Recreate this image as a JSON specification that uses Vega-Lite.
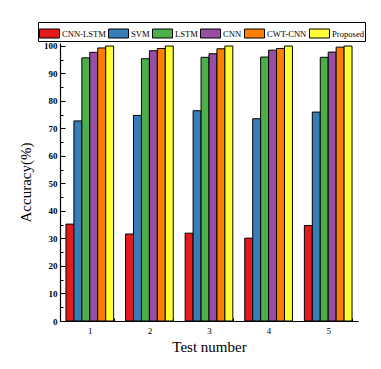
{
  "$schema": "https://vega.github.io/schema/vega-lite/v6.json",
  "autosize": "none",
  "width": 298,
  "height": 278,
  "padding": {"left": 60, "top": 43, "right": 23, "bottom": 48},
  "background": "white",
  "config": {
    "font": "Liberation Serif",
    "view": {"stroke": null},
    "axis": {"domainColor": "black", "tickColor": "black", "labelColor": "black", "titleColor": "black", "grid": false}
  },
  "data": {"values": [
    {"test": "1", "method": "CNN-LSTM", "acc": 35.2},
    {"test": "1", "method": "SVM", "acc": 72.7},
    {"test": "1", "method": "LSTM", "acc": 95.6},
    {"test": "1", "method": "CNN", "acc": 97.6},
    {"test": "1", "method": "CWT-CNN", "acc": 99.2},
    {"test": "1", "method": "Proposed", "acc": 99.9},
    {"test": "2", "method": "CNN-LSTM", "acc": 31.6},
    {"test": "2", "method": "SVM", "acc": 74.7},
    {"test": "2", "method": "LSTM", "acc": 95.3},
    {"test": "2", "method": "CNN", "acc": 98.2},
    {"test": "2", "method": "CWT-CNN", "acc": 99.0},
    {"test": "2", "method": "Proposed", "acc": 99.9},
    {"test": "3", "method": "CNN-LSTM", "acc": 31.9},
    {"test": "3", "method": "SVM", "acc": 76.4},
    {"test": "3", "method": "LSTM", "acc": 95.8},
    {"test": "3", "method": "CNN", "acc": 97.1},
    {"test": "3", "method": "CWT-CNN", "acc": 98.9},
    {"test": "3", "method": "Proposed", "acc": 99.9},
    {"test": "4", "method": "CNN-LSTM", "acc": 30.1},
    {"test": "4", "method": "SVM", "acc": 73.5},
    {"test": "4", "method": "LSTM", "acc": 95.9},
    {"test": "4", "method": "CNN", "acc": 98.4},
    {"test": "4", "method": "CWT-CNN", "acc": 99.0},
    {"test": "4", "method": "Proposed", "acc": 99.9},
    {"test": "5", "method": "CNN-LSTM", "acc": 34.7},
    {"test": "5", "method": "SVM", "acc": 75.9},
    {"test": "5", "method": "LSTM", "acc": 95.8},
    {"test": "5", "method": "CNN", "acc": 97.7},
    {"test": "5", "method": "CWT-CNN", "acc": 99.5},
    {"test": "5", "method": "Proposed", "acc": 99.9}
  ]},
  "mark": {"type": "bar", "stroke": "black", "strokeWidth": 1},
  "encoding": {
    "x": {
      "field": "test", "type": "nominal",
      "scale": {"paddingInner": 0.2, "paddingOuter": 0.1},
      "axis": {"title": "Test number", "titleFontSize": 15, "titleFontWeight": "normal", "titlePadding": 4,
               "labelAngle": 0, "labelFontSize": 9, "labelFontWeight": "normal", "labelPadding": 8,
               "tickBand": "extent", "tickSize": -3, "domainWidth": 1.2}
    },
    "xOffset": {"field": "method", "type": "nominal", "sort": ["CNN-LSTM", "SVM", "LSTM", "CNN", "CWT-CNN", "Proposed"]},
    "y": {
      "field": "acc", "type": "quantitative",
      "scale": {"domain": [0, 101], "nice": false},
      "axis": {"title": "Accuracy(%)", "titleFontSize": 15, "titleFontWeight": "normal", "titlePadding": 10,
               "values": [0,5,10,15,20,25,30,35,40,45,50,55,60,65,70,75,80,85,90,95,100],
               "labelExpr": "datum.value % 10 === 0 ? datum.label : ''",
               "labelFontSize": 9, "labelFontWeight": "bold", "labelPadding": 8,
               "tickSize": {"condition": {"test": "datum.value % 10 === 0", "value": -5}, "value": -3},
               "domainWidth": 1.2}
    },
    "color": {
      "field": "method", "type": "nominal",
      "sort": ["CNN-LSTM", "SVM", "LSTM", "CNN", "CWT-CNN", "Proposed"],
      "scale": {"range": ["#e41a1c", "#377eb8", "#4daf4a", "#984ea3", "#ff7f00", "#ffff33"]},
      "legend": {
        "title": null, "orient": "none", "legendX": -22, "legendY": -21, "direction": "horizontal",
        "symbolType": "M-1,-0.45H1V0.45H-1Z", "symbolSize": 400, "symbolStrokeColor": "black", "symbolStrokeWidth": 1,
        "symbolOpacity": 1, "labelFontSize": 8.6, "labelFontWeight": "normal", "labelColor": "black",
        "labelOffset": 2, "columnPadding": 0, "strokeColor": "black", "padding": 1, "columns": 6
      }
    }
  }
}
